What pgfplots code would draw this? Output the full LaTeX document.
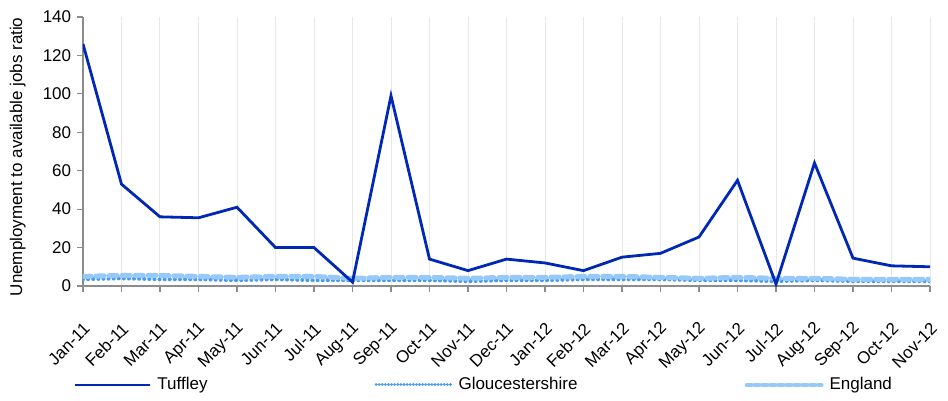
\documentclass[border=0pt]{standalone}
\usepackage{pgfplots}
\pgfplotsset{compat=1.18}
\usepackage{fontspec}
\setmainfont{Liberation Sans}
\definecolor{tuff}{RGB}{0,40,180}
\definecolor{glo}{RGB}{70,155,240}
\definecolor{eng}{RGB}{150,200,250}
\definecolor{axgray}{RGB}{140,140,140}
\definecolor{gridc}{RGB}{232,232,232}
\begin{document}
\fontsize{17bp}{20bp}\selectfont
\begin{tikzpicture}
\useasboundingbox (-83bp,-115bp) rectangle (865bp,286bp);
\begin{axis}[
  at={(0,0)}, anchor=south west,
  scale only axis, width=847bp, height=269bp,
  xmin=0, xmax=22, ymin=0, ymax=140,
  axis lines*=left,
  axis line style={axgray, line width=1.2bp},
  tick style={axgray, line width=1.2bp},
  tick align=outside,
  major tick length=6bp,
  ytick={0,20,...,140},
  xtick={0,...,22},
  xticklabels={Jan-11,Feb-11,Mar-11,Apr-11,May-11,Jun-11,Jul-11,Aug-11,Sep-11,Oct-11,Nov-11,Dec-11,Jan-12,Feb-12,Mar-12,Apr-12,May-12,Jun-12,Jul-12,Aug-12,Sep-12,Oct-12,Nov-12},
  xticklabel style={xshift=8bp, yshift=-30bp, rotate=45, anchor=east},
  yticklabel style={/pgf/number format/assume math mode=true},
  xmajorgrids, major grid style={gridc, line width=1bp},
  ylabel={Unemployment to available jobs ratio},
  ylabel style={at={(axis description cs:-0.077,0.48)}, anchor=center},
  legend style={draw=none, fill=none, inner sep=0pt, at={(axis description cs:-0.011,-0.368)}, anchor=west,
    legend columns=3,
    /tikz/every odd column/.style={column sep=4bp},
    /tikz/every even column/.style={column sep=165bp}},
  legend image code/.code={\draw[#1] (0bp,0bp) -- (75bp,0bp);},
  legend cell align=left,
]
\addlegendimage{tuff, line width=2.6bp}
\addlegendentry{Tuffley}
\addlegendimage{glo, line width=3bp, dash pattern=on 0.1bp off 3bp, line cap=round}
\addlegendentry{Gloucestershire}
\addlegendimage{eng, line width=4bp, dash pattern=on 5bp off 3bp, line cap=round}
\addlegendentry{England}

\addplot[glo, line width=4bp, dash pattern=on 0.1bp off 5bp, line cap=round, forget plot] coordinates {
(0,3.5)(1,4)(2,3.5)(3,3.5)(4,3)(5,3.5)(6,3)(7,3)(8,3)(9,3)(10,2.5)(11,3)(12,3)(13,3.5)(14,3.5)(15,3.5)(16,3)(17,3)(18,2.5)(19,3)(20,2.5)(21,2.5)(22,2.5)};
\addplot[eng, line width=5bp, dash pattern=on 8bp off 5bp, line cap=round, forget plot] coordinates {
(0,5)(1,5.5)(2,5.5)(3,5)(4,4.5)(5,5)(6,5)(7,4)(8,4.5)(9,4.5)(10,4)(11,4.5)(12,4.5)(13,5)(14,5)(15,4.5)(16,4)(17,4.5)(18,4)(19,4)(20,3.5)(21,3.5)(22,3.5)};
\addplot[tuff, line width=2.8bp, forget plot] coordinates {
(0,126)(1,53)(2,36)(3,35.5)(4,41)(5,20)(6,20)(7,2)(8,99)(9,14)(10,8)(11,14)(12,12)(13,8)(14,15)(15,17)(16,25.5)(17,55)(18,1)(19,64)(20,14.5)(21,10.5)(22,10)};
\end{axis}
\end{tikzpicture}
\end{document}
